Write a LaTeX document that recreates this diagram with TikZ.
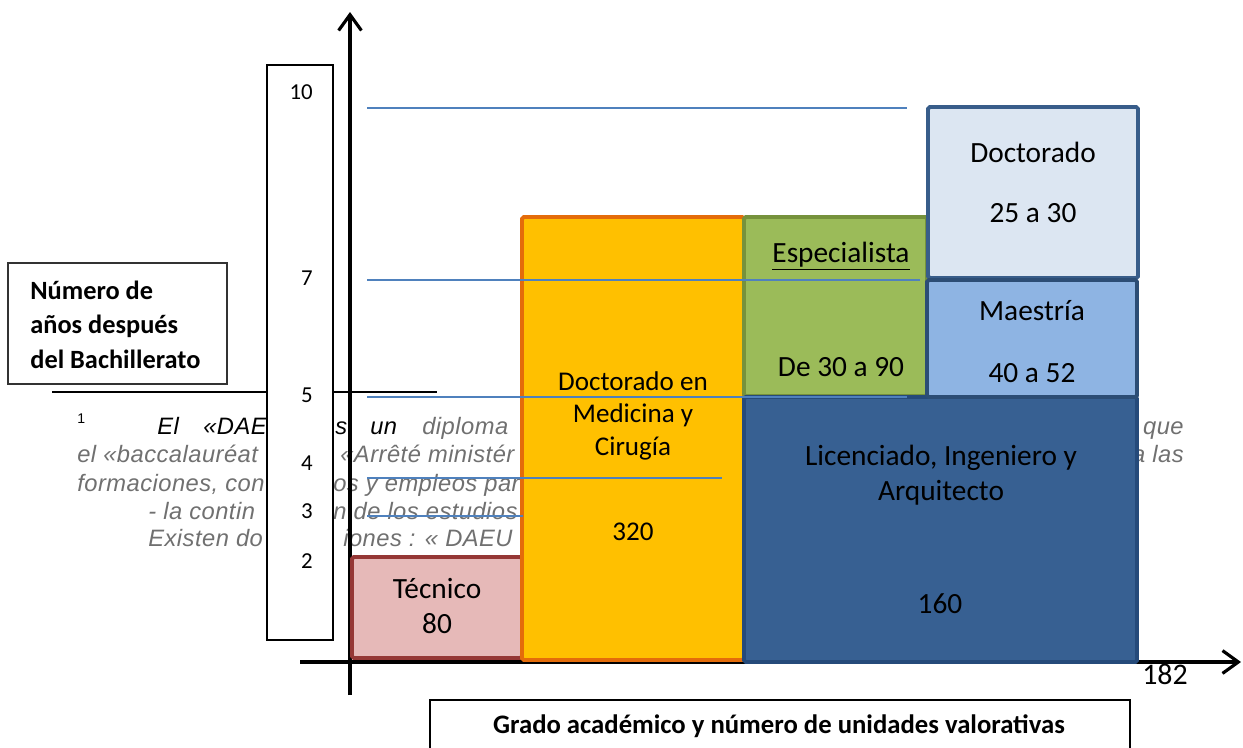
\documentclass[tikz,border=0pt]{standalone}
\usepackage{fontspec}
\setmainfont{Carlito}
\newfontfamily\notefont[LetterSpace=2]{Liberation Sans}
\usetikzlibrary{arrows.meta}
\definecolor{tecfill}{HTML}{E6B9B8}
\definecolor{tecline}{HTML}{953735}
\definecolor{medfill}{HTML}{FFC000}
\definecolor{medline}{HTML}{E46C0A}
\definecolor{espfill}{HTML}{9BBB59}
\definecolor{espline}{HTML}{76923C}
\definecolor{docfill}{HTML}{DCE6F2}
\definecolor{docline}{HTML}{385D8A}
\definecolor{maefill}{HTML}{8EB4E3}
\definecolor{maeline}{HTML}{2C4D75}
\definecolor{licfill}{HTML}{376092}
\definecolor{licline}{HTML}{254A7A}
\definecolor{guide}{HTML}{4F81BD}
\definecolor{notegray}{HTML}{707070}
\begin{document}
\begin{tikzpicture}[x=0.02cm,y=-0.02cm,
	lbl/.style={anchor=base,inner sep=0pt,font=\fontsize{16.7}{20}\selectfont},
	medlbl/.style={lbl,font=\fontsize{15.4}{18}\selectfont},
	boldlbl/.style={anchor=base west,inner sep=0pt,font=\bfseries\fontsize{15}{18}\selectfont},
	tick/.style={anchor=base east,inner sep=0pt,font=\fontsize{13}{15}\selectfont},
	note/.style={anchor=base west,inner sep=0pt,text=notegray,font=\notefont\itshape\fontsize{13.5}{15}\selectfont},
	bar/.style={line width=2.2pt,rounded corners=1pt},
	axis/.style={line width=1.8pt,-{Straight Barb[length=9pt,width=13pt,line width=1.8pt]}},
	guideline/.style={guide,line width=1.1pt}]
	\useasboundingbox (0,0) rectangle (1243,747);
	\node[anchor=base west,inner sep=0pt,font=\notefont\fontsize{8}{9}\selectfont] (fnmark) at (77,423) {1};
	\node[note,text=black] (n1a) at (157,434) {El};
	\node[note,text=black] (n1b) at (203,434) {«DAE};
	\node[note,text=black] (n1c) at (335,434) {s};
	\node[note,text=black] (n1d) at (370,434) {un};
	\node[note] (n1e) at (422,434) {diploma};
	\node[note,anchor=base east] (n1f) at (1184,434) {que};
	\node[note] (n2a) at (77,462) {el «baccalauréat};
	\node[note] (n2b) at (340,462) {«Arrêté ministér};
	\node[note,anchor=base east] (n2c) at (1184,462) {a las};
	\node[note] (n3a) at (77,491) {formaciones, con};
	\node[note] (n3b) at (333,491) {os y empleos par};
	\node[note] (n4a) at (148,519) {- la contin};
	\node[note] (n4b) at (333,519) {n de los estudios};
	\node[note] (n5a) at (148,546) {Existen do};
	\node[note] (n5b) at (343,546) {iones : « DAEU};
	\draw[line width=0.8pt] (52,392) -- (437,392);
	\draw[line width=0.6pt,fill=white] (267,65) rectangle (333,640);
	\draw[line width=0.8pt,draw=black!80,fill=white] (8,263) rectangle (227,384);
	\draw[line width=0.8pt] (430,760) -- (430,700) -- (1130,700) -- (1130,760);
	\coordinate (o) at (350,662);
	\draw[axis] (350,695) -- (350,12);
	\draw[axis] (300,662) -- (1241,662);
	\draw[bar,draw=tecline,fill=tecfill] (352,557) rectangle (522,658);
	\draw[bar,draw=medline,fill=medfill] (522,217) rectangle (744,660);
	\draw[bar,draw=espline,fill=espfill] (744,217) rectangle (927,396);
	\draw[bar,draw=licline,fill=licfill] (744,397) rectangle (1137,662);
	\draw[bar,draw=docline,fill=docfill] (928,107) rectangle (1138,278);
	\draw[bar,draw=maeline,fill=maefill] (927,280) rectangle (1137,397);
	\draw[guideline] (367,108) -- (907,108);
	\draw[guideline] (367,280) -- (920,280);
	\draw[guideline] (367,397) -- (907,397);
	\draw[guideline] (367,478) -- (722,478);
	\draw[guideline] (367,516) -- (523,516);
	\node[tick] (t10) at (313,99) {10};
	\node[tick] (t7) at (313,285) {7};
	\node[tick] (t5) at (313,402) {5};
	\node[tick] (t4) at (313,470) {4};
	\node[tick] (t3) at (313,518) {3};
	\node[tick] (t2) at (313,568) {2};
	\node[boldlbl] (ylab1) at (30,299) {Número de};
	\node[boldlbl] (ylab2) at (30,333) {años después};
	\node[boldlbl] (ylab3) at (30,368) {del Bachillerato};
	\node[lbl] (tec1) at (437,598) {Técnico};
	\node[lbl] (tec2) at (437,633) {80};
	\node[medlbl] (med1) at (633,390) {Doctorado en};
	\node[medlbl] (med2) at (633,422) {Medicina y};
	\node[medlbl] (med3) at (633,455) {Cirugía};
	\node[medlbl] (med4) at (633,540) {320};
	\node[lbl] (esp1) at (841,262) {\underline{Especialista}};
	\node[lbl] (esp2) at (841,376) {De 30 a 90};
	\node[lbl] (doc1) at (1033,162) {Doctorado};
	\node[lbl] (doc2) at (1033,222) {25 a 30};
	\node[lbl] (mae1) at (1032,320) {Maestría};
	\node[lbl] (mae2) at (1032,382) {40 a 52};
	\node[lbl] (lic1) at (941,465) {Licenciado, Ingeniero y};
	\node[lbl] (lic2) at (941,500) {Arquitecto};
	\node[lbl] (lic3) at (940,613) {160};
	\node[lbl,font=\fontsize{17}{20}\selectfont] (xmax) at (1165,684) {182};
	\node[lbl,font=\bfseries\fontsize{15.2}{18}\selectfont] (xlab) at (779,733) {Grado académico y número de unidades valorativas};
\end{tikzpicture}
\end{document}
